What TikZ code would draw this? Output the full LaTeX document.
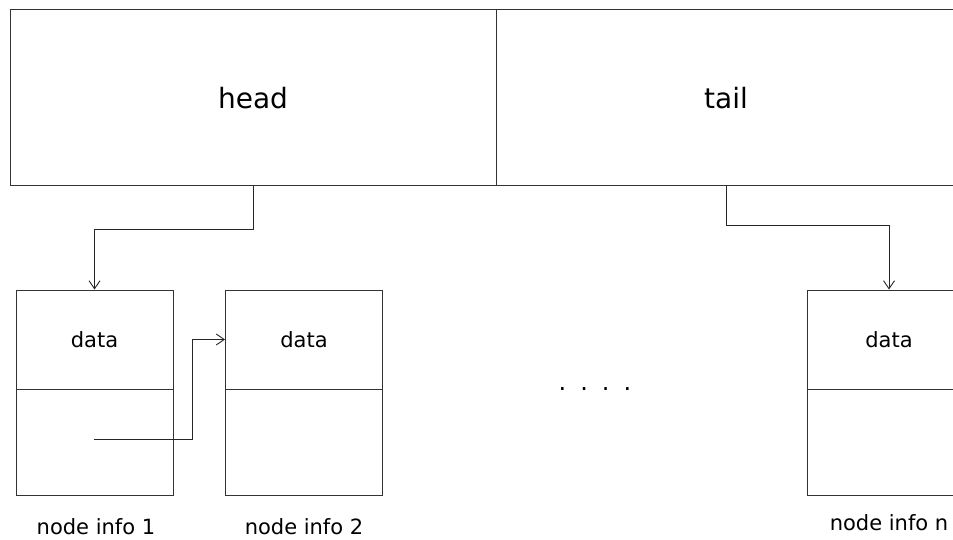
\documentclass[tikz,border=0pt]{standalone}
\usepackage{fontspec}
\setmainfont{DejaVu Sans}
\usetikzlibrary{arrows.meta}

\tikzset{
 cell/.style={rectangle, draw=black!80, line width=1pt, minimum width=157pt, inner sep=0pt},
 arr/.style={-{Straight Barb[length=8pt,width=11pt]}, draw=black!85, line width=0.9pt},
 big/.style={font=\fontsize{28}{34}\selectfont},
 small/.style={font=\fontsize{21}{25}\selectfont}
}

\begin{document}
\begin{tikzpicture}[x=1pt, y=-1pt]
 \useasboundingbox (0,0) rectangle (953,540);
 \clip (0,0) rectangle (953,540);

 % list header
 \draw node[cell, big, minimum width=486pt, minimum height=176pt] (head) at (253,98) {head};
 \draw node[cell, big, minimum width=460pt, minimum height=176pt] (tail) at (726,98) {tail};

 % list nodes
 \draw node[cell, small, minimum height=99pt] (d1) at (94.5,339.5) {data};
 \draw node[cell, minimum height=106pt] (p1) at (94.5,442) {};
 \draw node[cell, small, minimum height=99pt] (d2) at (304,339.5) {data};
 \draw node[cell, minimum height=106pt] (p2) at (304,442) {};
 \draw node[cell, small, minimum width=164pt, minimum height=99pt] (dn) at (889,339.5) {data};
 \draw node[cell, minimum width=164pt, minimum height=106pt] (pn) at (889,442) {};

 \draw node[small] (l1) at (96,527) {node info 1};
 \draw node[small] (l2) at (304,527) {node info 2};
 \draw node[small] (ln) at (889,523) {node info n};

 \draw node[font=\fontsize{24}{28}\selectfont] (dots) at (595,389) {.\hspace{14pt}.\hspace{14pt}.\hspace{14pt}.};

 % pointers
 \coordinate (ptr1) at (94,439);
 \draw[arr] (head.south) -- ++(0,43) -| (d1.north);
 \draw[arr] (tail.south) -- ++(0,39) -| (dn.north);
 \draw[arr] (ptr1) -- ++(98,0) |- (d2.west);
\end{tikzpicture}
\end{document}
